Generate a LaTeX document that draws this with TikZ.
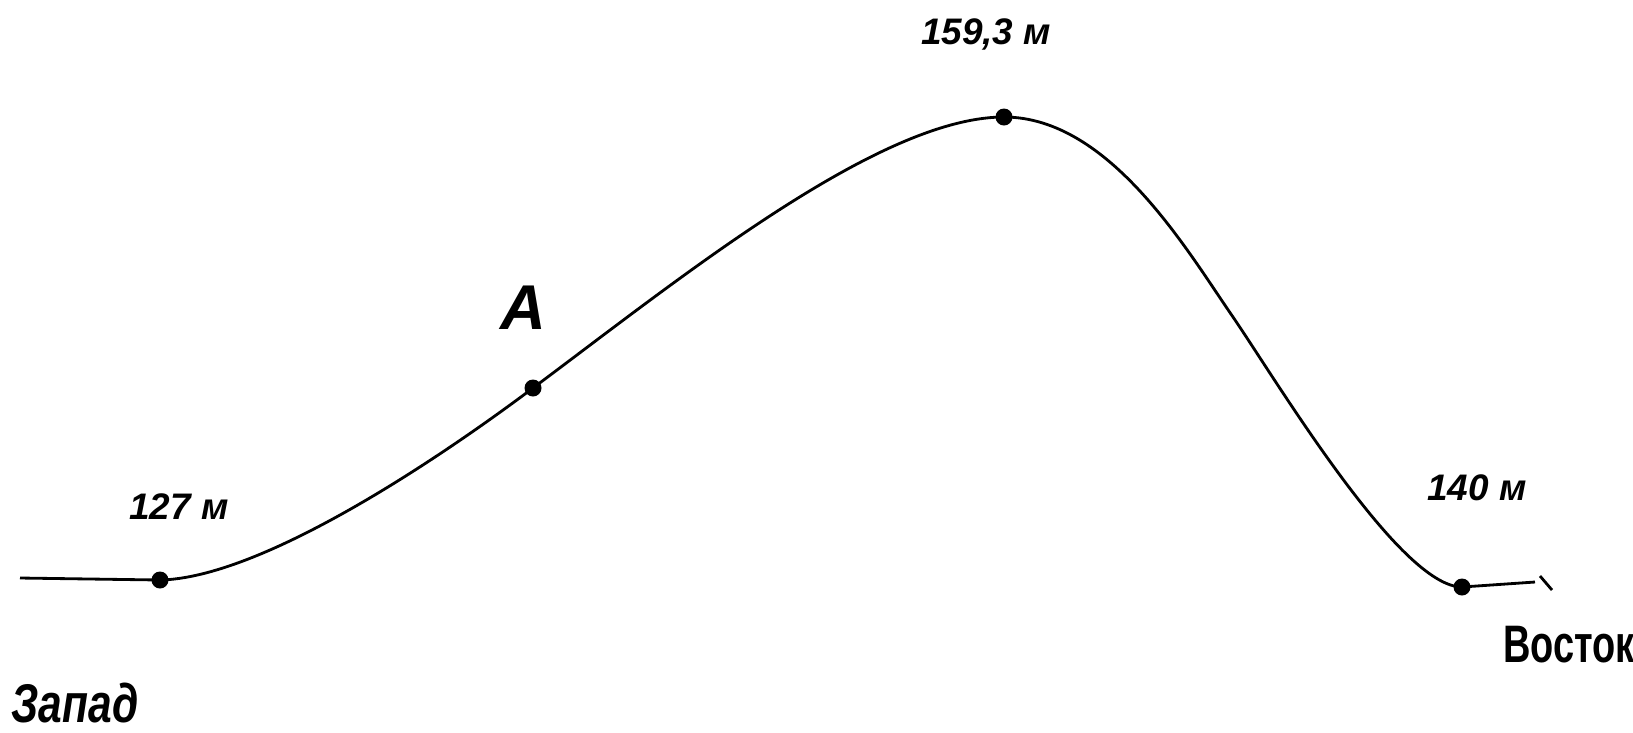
\documentclass[tikz,border=0pt]{standalone}
\usepackage{fontspec}
\setmainfont{Liberation Sans}
\usepackage{graphicx}
\begin{document}
\begin{tikzpicture}[x=0.01cm,y=-0.01cm,
  profile/.style={line width=0.8pt, black},
  pt/.style={circle, fill=black, inner sep=0pt, minimum width=0.14cm, minimum height=0.17cm},
  lbl/.style={font=\fontsize{10.5}{12}\selectfont\bfseries\itshape, inner sep=0pt},
  biglbl/.style={font=\fontsize{18}{20}\selectfont\bfseries\itshape, inner sep=0pt},
  dirlbl/.style={font=\fontsize{15}{17}\selectfont\bfseries, inner sep=0pt}]
\useasboundingbox (0,0) rectangle (1633,732);
\fill[white] (0,0) rectangle (1633,732);
% coordinates along the profile
\coordinate (w) at (20,578);
\coordinate (c127) at (160,580);
\coordinate (cA) at (533,388);
\coordinate (c159) at (1004,117);
\coordinate (mid) at (1233,317);
\coordinate (c140) at (1462,587);
\coordinate (e) at (1535,582);
% profile line
\draw[profile] (w) -- (c127)
  .. controls (260,578) and (433,463) .. (cA)
  .. controls (683,276) and (880,117) .. (c159)
  .. controls (1110,117) and (1188,252) .. (mid)
  .. controls (1278,383) and (1400,587) .. (c140)
  -- (e);
\coordinate (t1) at (1540,576);
\coordinate (t2) at (1552,590);
\draw[profile] (t1) -- (t2);
% points
\node[pt] (p127) at (c127) {};
\node[pt] (pA) at (cA) {};
\node[pt] (p159) at (c159) {};
\node[pt] (p140) at (c140) {};
% labels
\node[lbl] (l127) at (179,507) {127 м};
\node[lbl] (l159) at (986,34) {159,3 м};
\node[lbl] (l140) at (1477,488) {140 м};
\node[biglbl] (lA) at (523,308) {А};
\node[dirlbl] (lE) at (1569,645) {\scalebox{0.72}[1]{Восток}};
\node[dirlbl, font=\fontsize{15.5}{17}\selectfont\bfseries\itshape] (lW) at (75,703) {\scalebox{0.78}[1]{Запад}};
\end{tikzpicture}
\end{document}
